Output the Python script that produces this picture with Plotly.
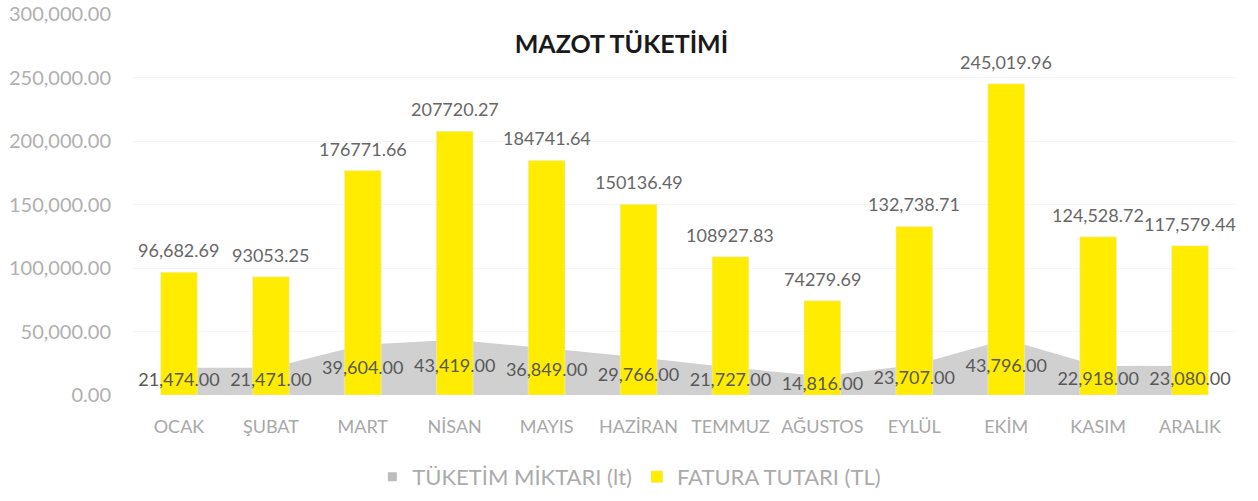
import plotly.graph_objects as go

months = ["OCAK", "ŞUBAT", "MART", "NİSAN", "MAYIS", "HAZİRAN",
          "TEMMUZ", "AĞUSTOS", "EYLÜL", "EKİM", "KASIM", "ARALIK"]
tuketim = [21474, 21471, 39604, 43419, 36849, 29766,
           21727, 14816, 23707, 43796, 22918, 23080]
fatura = [96682.69, 93053.25, 176771.66, 207720.27, 184741.64, 150136.49,
          108927.83, 74279.69, 132738.71, 245019.96, 124528.72, 117579.44]
fatura_labels = ["96,682.69", "93053.25", "176771.66", "207720.27", "184741.64", "150136.49",
                 "108927.83", "74279.69", "132,738.71", "245,019.96", "124,528.72", "117,579.44"]
tuketim_labels = [f"{v:,.2f}" for v in tuketim]

AREA_GRAY = "#d0d0d0"
BAR_YELLOW = "#ffec00"

fig = go.Figure()

# gray area (consumption) on the base axis so the bars (y2, overlaid) sit on top
fig.add_trace(go.Scatter(
    x=months, y=tuketim, name="TÜKETİM MİKTARI (lt)", showlegend=False,
    mode="lines", fill="tozeroy", line=dict(width=0, color=AREA_GRAY),
    fillcolor=AREA_GRAY, hoverinfo="x+y"
))
# legend-only entry so the key shows a small square like Excel
fig.add_trace(go.Scatter(
    x=[None], y=[None], name="TÜKETİM MİKTARI (lt)", mode="markers",
    marker=dict(symbol="square", size=9, color="#bdbdbd")
))

fig.add_trace(go.Bar(
    x=months, y=fatura, name="FATURA TUTARI (TL)", yaxis="y2",
    marker_color=BAR_YELLOW, width=0.40, hoverinfo="x+y"
))

# area labels sit in the middle of the area, like Excel does
fig.add_trace(go.Scatter(
    x=months, y=[v / 2 for v in tuketim], yaxis="y2", mode="text",
    text=tuketim_labels, textposition="middle center",
    textfont=dict(family="Lato", size=18, color="#585858"),
    showlegend=False, hoverinfo="skip", cliponaxis=False
))

# value labels above bars
for m, v, lab in zip(months, fatura, fatura_labels):
    fig.add_annotation(x=m, y=v, xref="x", yref="y2", text=lab, showarrow=False,
                       yanchor="middle", yshift=22,
                       font=dict(family="Lato", size=18, color="#676767"))

fig.update_layout(
    width=1258, height=501,
    paper_bgcolor="white", plot_bgcolor="white",
    margin=dict(l=133, r=22, t=14, b=106, autoexpand=False),
    font=dict(family="Lato", color="#a0a0a0"),
    title=dict(text="<b>MAZOT TÜKETİMİ</b>", x=0.494, xanchor="center",
               y=0.912, yanchor="middle",
               font=dict(family="Lato", size=25, color="#1a1a1a")),
    legend=dict(orientation="h", x=0.45, xanchor="center", y=-0.215, yanchor="middle",
                font=dict(size=22, color="#ababab"), traceorder="normal"),
    xaxis=dict(range=[-0.5, len(months) - 0.5], tickfont=dict(size=18, color="#a8a8a8"),
               showline=False, ticklabelstandoff=19),
    yaxis=dict(range=[0, 300000], dtick=50000, tickformat=",.2f", automargin=False,
               showgrid=True, gridcolor="#f5f5f5", zeroline=False,
               tickfont=dict(size=20, color="#b0b0b0"), ticklabelstandoff=21,
               ticklabeloverflow="allow"),
    yaxis2=dict(range=[0, 300000], overlaying="y", visible=False),
    showlegend=True,
)

# drop the default 8px body margin so the figure fills the window
fig.write_html("out.html", config={"displayModeBar": False},
               post_script="document.body.style.margin = '0px';")
